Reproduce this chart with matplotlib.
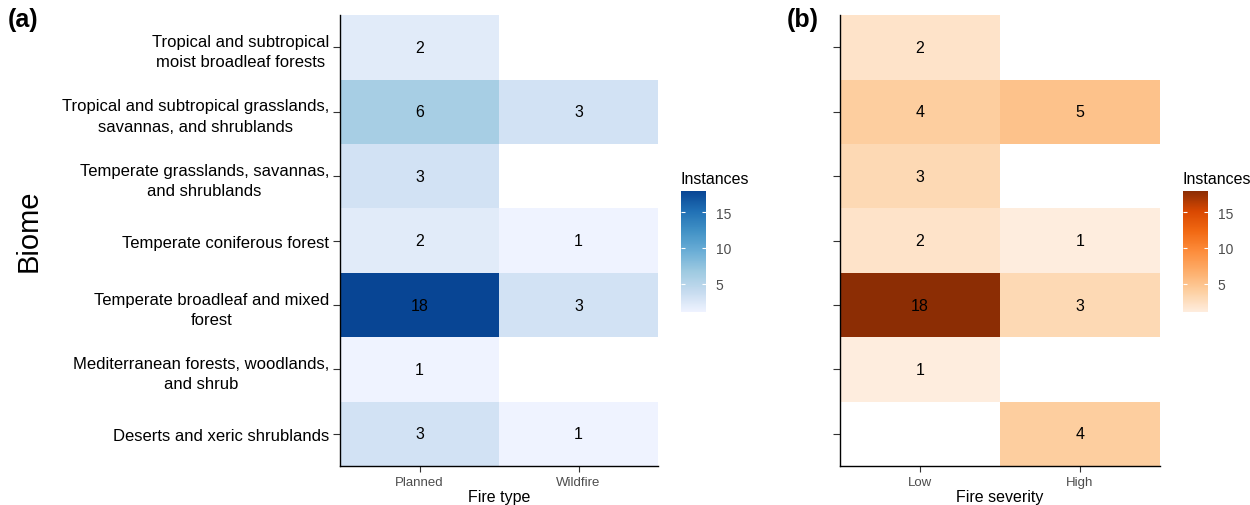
import matplotlib
matplotlib.use('Agg')
import matplotlib.pyplot as plt
from matplotlib.colors import LinearSegmentedColormap
import numpy as np

plt.rcParams['font.family'] = ['Liberation Sans', 'DejaVu Sans']

biomes = ['Tropical and subtropical\nmoist broadleaf forests',
          'Tropical and subtropical grasslands,\nsavannas, and shrublands',
          'Temperate grasslands, savannas,\nand shrublands',
          'Temperate coniferous forest',
          'Temperate broadleaf and mixed\nforest',
          'Mediterranean forests, woodlands,\nand shrub',
          'Deserts and xeric shrublands']
fire_types = ['Planned', 'Wildfire']
severities = ['Low', 'High']

nan = np.nan
planned = [2, 6, 3, 2, 18, 1, 3]
wildfire = [nan, 3, nan, 1, 3, nan, 1]
low = [2, 4, 3, 2, 18, 1, nan]
high = [nan, 5, nan, 1, 3, nan, 4]

blues = LinearSegmentedColormap.from_list('b7', ['#eff3ff', '#c6dbef', '#9ecae1', '#6baed6',
                                                 '#4292c6', '#2171b5', '#084594'])
oranges = LinearSegmentedColormap.from_list('o7', ['#feedde', '#fdd0a2', '#fdae6b', '#fd8d3c',
                                                   '#f16913', '#d94801', '#8c2d04'])

fig = plt.figure(figsize=(12.5, 5.06), dpi=100)
ax_a = fig.add_axes([0.272, 0.077, 0.2544, 0.891])
ax_b = fig.add_axes([0.672, 0.077, 0.256, 0.891])
cax_a = fig.add_axes([0.5448, 0.3814, 0.02, 0.239])
cax_b = fig.add_axes([0.9464, 0.3814, 0.02, 0.239])


def heat(ax, cax, cols, xlabels, cmap, xtitle, show_y):
    data = np.ma.masked_invalid(np.array(cols).T)
    n = data.shape[0]
    mesh = ax.pcolormesh(np.arange(len(cols) + 1) - 0.5, np.arange(n + 1) - 0.5, data,
                         cmap=cmap, vmin=1, vmax=18)
    for i in range(n):
        for j in range(len(cols)):
            if not np.ma.is_masked(data[i, j]):
                ax.text(j, i, '%d' % data[i, j], ha='center', va='center', fontsize=11.5, color='black')
    ax.set_xlim(-0.5, len(cols) - 0.5)
    ax.set_ylim(n - 0.5, -0.5)
    ax.set_xticks(range(len(cols)))
    ax.set_xticklabels(xlabels)
    ax.set_yticks(range(n))
    if show_y:
        ax.set_yticklabels(biomes)
        for lab in ax.get_yticklabels():
            lab.set_multialignment('center')
            lab.set_linespacing(1.45)
    else:
        ax.set_yticklabels([])
    ax.tick_params(axis='y', labelsize=12, labelcolor='black', color='#333333', length=5, pad=3)
    ax.tick_params(axis='x', labelsize=9.5, labelcolor='#4d4d4d', color='#333333', length=4, pad=3)
    ax.set_xlabel(xtitle, fontsize=11.5, labelpad=1)
    for s in ['top', 'right']:
        ax.spines[s].set_visible(False)
    for s in ['left', 'bottom']:
        ax.spines[s].set_linewidth(1.0)
    cb = fig.colorbar(mesh, cax=cax, ticks=[5, 10, 15])
    cb.outline.set_visible(False)
    cax.tick_params(direction='in', color='white', labelcolor='#4d4d4d', labelsize=10,
                    length=3, left=True, right=True, pad=7)
    cax.set_title('Instances', fontsize=11.5, loc='left', pad=6)


heat(ax_a, cax_a, [planned, wildfire], fire_types, blues, 'Fire type', True)
heat(ax_b, cax_b, [low, high], severities, oranges, 'Fire severity', False)

fig.text(0.023, 0.543, 'Biome', fontsize=21, rotation=90, ha='center', va='center')
fig.text(0.006, 0.96, '(a)', fontsize=18, fontweight='bold', va='center')
fig.text(0.629, 0.96, '(b)', fontsize=18, fontweight='bold', va='center')

plt.savefig('out.png', dpi=100)
